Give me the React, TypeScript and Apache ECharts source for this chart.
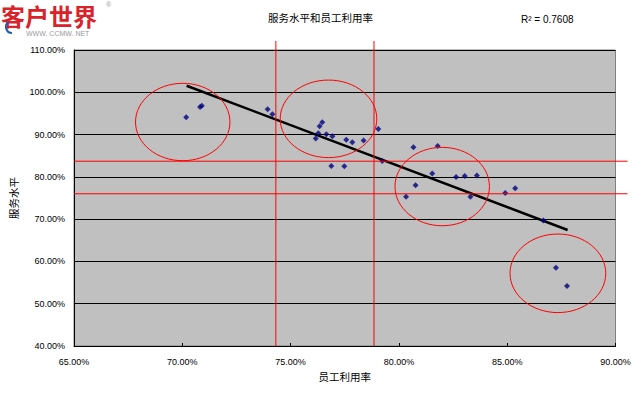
import React, { useEffect, useRef } from 'react';
import * as echarts from 'echarts';

// Employee utilisation (x, %) and service level (y, %)
const utilisation = [70.18, 70.82, 70.9, 73.94, 74.16, 76.46, 76.34, 76.28, 76.16, 76.65, 76.93, 77.57, 77.85, 78.37, 79.05, 79.23, 76.88, 77.48, 80.67, 81.79, 81.54, 80.77, 80.33, 82.64, 83.04, 83.6, 83.3, 84.91, 85.37, 86.67, 87.25, 87.76];
const serviceLevel = [94.1, 96.5, 96.8, 95.97, 94.8, 92.9, 91.95, 90.3, 89.1, 90.05, 89.6, 88.8, 88.2, 88.6, 91.3, 83.75, 82.56, 82.5, 86.98, 87.3, 80.8, 78.0, 75.3, 79.95, 80.18, 80.3, 75.3, 76.2, 77.3, 69.7, 58.5, 54.2];

// Linear trendline end points
const trendX = [70.2, 87.79];
const trendY = [101.55, 67.43];

// Red reference lines
const verticalRefs = [74.32, 78.85];
const horizontalRefs = [83.7, 76.0];

// Red ellipses (center x, center y, radius x, radius y) in data units
const ellipseCx = [70.02, 76.75, 82.0, 87.34];
const ellipseCy = [92.97, 93.72, 77.71, 57.19];
const ellipseRx = [2.18, 2.23, 2.18, 2.21];
const ellipseRy = [9.15, 9.17, 9.27, 9.29];

const titleText = '服务水平和员工利用率';
const rSquaredText = 'R² = 0.7608';
const xName = '员工利用率';
const yName = '服务水平';

const CJK = '"Noto Sans CJK SC", sans-serif';
const LAT = '"Liberation Sans", Arial, sans-serif';

export default function App() {
  const ref = useRef<HTMLDivElement>(null);
  useEffect(() => {
    const chart = echarts.init(ref.current!, null, { renderer: 'svg' });
    const points = utilisation.map((x, i) => [x, serviceLevel[i]]);
    const trend = trendX.map((x, i) => [x, trendY[i]]);
    chart.setOption({
      animation: false,
      backgroundColor: '#ffffff',
      grid: {
        left: 74,
        top: 50,
        width: 541.5,
        height: 296,
        show: true,
        backgroundColor: '#C0C0C0',
        borderColor: '#808080',
        borderWidth: 1,
      },
      xAxis: {
        type: 'value',
        min: 65,
        max: 90,
        interval: 5,
        name: xName,
        nameLocation: 'middle',
        nameGap: 25,
        nameTextStyle: { fontFamily: CJK, fontSize: 10.5, color: '#000' },
        axisLine: { show: true, lineStyle: { color: '#000', width: 1 } },
        axisTick: { show: true, inside: true, length: 3, lineStyle: { color: '#000' } },
        axisLabel: {
          formatter: (v: number) => v.toFixed(2) + '%',
          fontFamily: LAT,
          fontSize: 9,
          color: '#000',
          margin: 11,
        },
        splitLine: { show: false },
      },
      yAxis: {
        type: 'value',
        min: 40,
        max: 110,
        interval: 10,
        name: yName,
        nameLocation: 'middle',
        nameRotate: 90,
        nameGap: 47,
        nameTextStyle: { fontFamily: CJK, fontSize: 10.5, color: '#000' },
        axisLine: { show: true, lineStyle: { color: '#000', width: 1 } },
        axisTick: { show: true, inside: true, length: 3, lineStyle: { color: '#000' } },
        axisLabel: {
          formatter: (v: number) => v.toFixed(2) + '%',
          fontFamily: LAT,
          fontSize: 9,
          color: '#000',
          margin: 9,
        },
        splitLine: { show: true, lineStyle: { color: '#000', width: 1 } },
      },
      series: [
        {
          type: 'line',
          data: trend,
          symbol: 'none',
          lineStyle: { color: '#000', width: 2.5 },
          z: 3,
        },
        {
          type: 'scatter',
          data: points,
          symbol: 'diamond',
          symbolSize: 6,
          itemStyle: { color: '#000080' },
          z: 4,
        },
      ],
    });

    const px = (x: number, y: number) => chart.convertToPixel({ gridIndex: 0 }, [x, y]) as number[];
    const top = px(65, 110);
    const bottomRight = px(90, 40);
    const graphics: any[] = [];

    verticalRefs.forEach((v) => {
      const p = px(v, 40);
      graphics.push({
        type: 'line',
        z: 20,
        shape: { x1: p[0], y1: top[1] - 9, x2: p[0], y2: bottomRight[1] },
        style: { stroke: '#FF0000', lineWidth: 1 },
      });
    });
    horizontalRefs.forEach((h) => {
      const p = px(65, h);
      graphics.push({
        type: 'line',
        z: 20,
        shape: { x1: p[0], y1: p[1], x2: bottomRight[0] + 12, y2: p[1] },
        style: { stroke: '#FF0000', lineWidth: 1 },
      });
    });
    ellipseCx.forEach((cx, i) => {
      const c = px(cx, ellipseCy[i]);
      const e = px(cx + ellipseRx[i], ellipseCy[i] + ellipseRy[i]);
      graphics.push({
        type: 'ellipse',
        z: 20,
        shape: { cx: c[0], cy: c[1], rx: Math.abs(e[0] - c[0]), ry: Math.abs(c[1] - e[1]) },
        style: { fill: 'none', stroke: '#FF0000', lineWidth: 1 },
      });
    });

    graphics.push(
      {
        type: 'text',
        left: 268,
        top: 12,
        style: { text: titleText, font: `10.5px ${CJK}`, fill: '#000' },
      },
      {
        type: 'text',
        left: 521,
        top: 14,
        style: { text: rSquaredText, font: `10px ${LAT}`, fill: '#000' },
      },
      {
        type: 'text',
        left: 1,
        top: 3,
        style: { text: '客户世界', font: `bold 24px ${CJK}`, fill: '#D9232B', lineHeight: 24 },
      },
      {
        type: 'text',
        left: 26,
        top: 30,
        style: { text: 'WWW. CCMW. NET', font: `7px ${LAT}`, fill: '#999', lineHeight: 7 },
      },
      {
        type: 'text',
        left: 106,
        top: 1,
        style: { text: '®', font: `7px ${LAT}`, fill: '#999' },
      },
      {
        type: 'arc',
        shape: { cx: 12, cy: 27, r: 6, startAngle: Math.PI * 0.5, endAngle: Math.PI * 1.3 },
        style: { stroke: '#1E5BB8', lineWidth: 2, fill: 'none' },
      }
    );

    chart.setOption({ graphic: graphics });
    return () => chart.dispose();
  }, []);
  return <div ref={ref} style={{ position: 'fixed', left: 0, top: 0, width: 642, height: 395 }} />;
}
